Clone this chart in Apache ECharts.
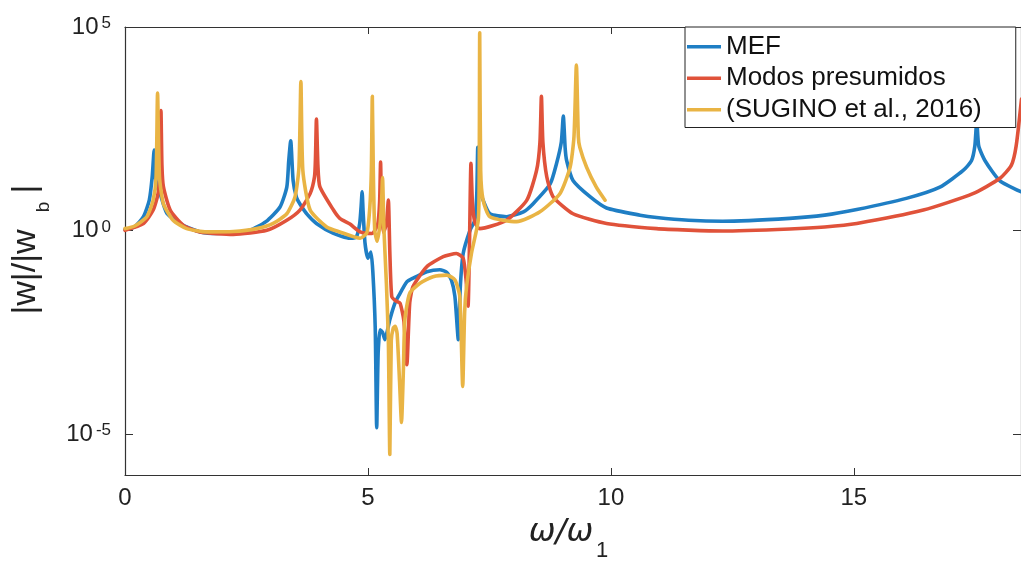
<!DOCTYPE html>
<html>
<head>
<meta charset="utf-8">
<script src="https://cdn.jsdelivr.net/npm/echarts@6/dist/echarts.min.js"></script>
<style>html,body{margin:0;padding:0;background:#fff;}#c{width:1021px;height:561px;}</style>
</head>
<body>
<div id="c"></div>
<script>
// x ticks and y ticks
const xTicks = [0, 5, 10, 15];
const yTicks = [1e-5, 1, 1e5];
const seriesNames = ['MEF', 'Modos presumidos', '(SUGINO et al., 2016)'];

// [omega/omega1, |w|/|wb|]
const mef = [
[0,1.07],[0.2,1.25],[0.38,2.2],[0.5,5.6],[0.56,21],[0.6,95],[0.62,25],[0.66,12],[0.72,8.3],[0.86,2.7],
[1.2,1.35],[1.55,0.93],[1.89,0.85],[2.22,0.89],[2.57,1.02],[2.9,1.66],[3.19,3.8],[3.33,11.7],[3.37,52],[3.41,160],
[3.46,17],[3.53,6.5],[3.6,4.5],[3.75,2.5],[3.94,1.5],[4.28,0.87],[4.63,0.65],[4.76,0.7],[4.83,1.5],[4.86,4],
[4.88,9],[4.9,3],[4.94,0.49],[5.0,0.21],[5.06,0.3],[5.1,0.1],[5.15,0.004],[5.18,1.45e-5],[5.21,1e-3],[5.25,3.7e-3],
[5.3,3.2e-3],[5.35,2.1e-3],[5.4,3.5e-3],[5.45,6.5e-3],[5.55,0.016],[5.64,0.026],[5.8,0.055],[5.93,0.068],[6.21,0.098],[6.48,0.11],
[6.62,0.095],[6.72,0.06],[6.79,0.024],[6.86,0.0021],[6.9,0.04],[6.96,0.275],[7.1,1.02],[7.2,1.8],[7.24,8],[7.26,112],
[7.28,12],[7.37,5.6],[7.51,2.6],[7.85,2.2],[8.2,2.9],[8.4,4.6],[8.75,14],[8.88,44],[8.98,150],[9.02,650],
[9.06,100],[9.09,52],[9.22,17],[9.57,6.8],[9.91,3.6],[10.6,2.4],[10.94,2.1],[11.6,1.8],[12.3,1.7],[13.68,2.0],
[14.4,2.4],[15.06,3.3],[16.08,6.2],[16.77,11.7],[17.25,30],[17.42,52],[17.49,120],[17.53,500],[17.57,120],[17.7,52],
[18.0,17],[18.45,8.9]
];
const modos = [
[0,1.02],[0.38,1.5],[0.58,3.2],[0.68,8.1],[0.72,30],[0.74,890],[0.76,40],[0.79,12],[0.93,3.2],[1.2,1.35],
[1.54,0.93],[2.23,0.81],[2.92,1.02],[3.33,1.8],[3.6,3.2],[3.81,8.1],[3.9,21],[3.92,60],[3.94,550],[3.97,40],
[4.01,12],[4.29,3.2],[4.42,2.0],[4.63,1.45],[4.84,0.93],[5.08,0.85],[5.2,1.4],[5.24,5],[5.26,48],[5.28,3],
[5.32,0.9],[5.38,1.5],[5.42,5.6],[5.45,0.3],[5.49,0.024],[5.57,0.019],[5.66,0.0166],[5.74,0.006],[5.8,5.1e-4],[5.86,0.017],
[5.93,0.043],[6.21,0.13],[6.55,0.23],[6.82,0.275],[6.96,0.21],[7.02,0.06],[7.06,0.014],[7.09,0.5],[7.12,45],[7.15,5],
[7.2,1.6],[7.3,1.12],[7.85,1.8],[8.27,5.6],[8.47,30],[8.54,150],[8.57,2000],[8.6,150],[8.68,21],[8.81,6.8],
[9.22,2.6],[9.91,1.5],[10.94,1.12],[11.6,1.03],[12.3,0.98],[13.68,1.1],[14.4,1.23],[15.06,1.5],[16.43,3.2],[17.45,8.1],
[18.0,19],[18.24,40],[18.34,120],[18.45,1700]
];
const sugino = [
[0,1.12],[0.2,1.3],[0.45,2.2],[0.58,5.6],[0.64,21],[0.67,2400],[0.71,21],[0.79,4.6],[0.99,1.8],[1.27,1.12],
[1.68,0.93],[2.23,0.95],[2.71,1.12],[3.05,1.5],[3.33,2.6],[3.5,6.8],[3.58,36],[3.62,4600],[3.66,30],[3.81,3.2],
[4.15,1.23],[4.42,0.93],[4.84,0.65],[4.98,0.9],[5.04,4],[5.07,30],[5.09,2000],[5.11,30],[5.14,1.0],[5.19,0.55],
[5.25,1.5],[5.28,5],[5.3,20],[5.33,1.0],[5.38,0.05],[5.42,0.002],[5.45,3.2e-6],[5.48,0.002],[5.52,4e-3],[5.56,4.5e-3],
[5.6,3e-3],[5.65,2e-4],[5.69,1.95e-5],[5.73,4e-4],[5.76,6.5e-3],[5.86,0.029],[6.07,0.051],[6.34,0.074],[6.62,0.081],[6.79,0.062],
[6.89,0.024],[6.95,1.5e-4],[6.99,0.01],[7.03,0.043],[7.13,0.275],[7.27,1.8],[7.29,30],[7.3,72000],[7.32,30],[7.37,5.6],
[7.51,2.2],[8.06,1.66],[8.54,2.9],[8.95,8.1],[9.16,36],[9.24,200],[9.29,11700],[9.33,200],[9.36,112],[9.5,36],
[9.7,11.7],[9.88,5.6]
];

const colors = ['#1f7ec4', '#e0523a', '#e9b444'];
const FONT = 'Liberation Sans';
const axisColor = '#333';

const chart = echarts.init(document.getElementById('c'));
function yLabel(v) {
  const e = Math.round(Math.log10(v));
  return '{b|10}{s|' + e + '}';
}
const yRich = {
  b: {fontSize: 24, fontFamily: FONT, color: '#222', lineHeight: 24, verticalAlign: 'bottom', padding: [8, 0, 0, 0]},
  s: {fontSize: 17, fontFamily: FONT, color: '#222', lineHeight: 17, verticalAlign: 'top', padding: [0, 0, 0, 3]}
};
function lineSeries(i, data) {
  return {name: seriesNames[i], type: 'line', data: data, showSymbol: false, symbol: 'none',
    xAxisIndex: 0, yAxisIndex: 0, smooth: 0.2,
    lineStyle: {width: 3.6, color: colors[i], join: 'round', cap: 'round'}, z: 2 + i};
}
chart.setOption({
  animation: false,
  backgroundColor: '#fff',
  color: colors,
  grid: {left: 125, top: 27, right: 0, bottom: 86, show: false},
  legend: {
    orient: 'vertical', left: 685, top: 27, icon: 'rect', itemWidth: 34, itemHeight: 3.5, itemGap: 0,
    padding: [4, 34, 2, 2], borderColor: '#222', borderWidth: 1, backgroundColor: '#fff',
    textStyle: {fontSize: 26, fontFamily: FONT, color: '#111', lineHeight: 31.5},
    data: seriesNames
  },
  xAxis: [
    {type: 'value', min: 0, max: 18.44, position: 'bottom',
     axisLine: {show: true, onZero: false, lineStyle: {color: axisColor, width: 1.2}},
     axisTick: {show: true, inside: true, length: 7, customValues: xTicks, lineStyle: {color: axisColor}},
     axisLabel: {show: true, customValues: xTicks, fontSize: 24, fontFamily: FONT, color: '#222', margin: 11},
     splitLine: {show: false}},
    {type: 'value', min: 0, max: 18.44, position: 'top',
     axisLine: {show: true, onZero: false, lineStyle: {color: axisColor, width: 1.2}},
     axisTick: {show: true, inside: true, length: 7, customValues: xTicks, lineStyle: {color: axisColor}},
     axisLabel: {show: false}, splitLine: {show: false}}
  ],
  yAxis: [
    {type: 'log', logBase: 10, min: 1e-6, max: 1e5, position: 'left',
     axisLine: {show: true, onZero: false, lineStyle: {color: axisColor, width: 1.2}},
     axisTick: {show: true, inside: true, length: 8, customValues: yTicks, lineStyle: {color: axisColor}},
     axisLabel: {show: true, customValues: yTicks, formatter: yLabel, rich: yRich, margin: 14},
     splitLine: {show: false}, minorTick: {show: false}},
    {type: 'log', logBase: 10, min: 1e-6, max: 1e5, position: 'right',
     axisLine: {show: true, onZero: false, lineStyle: {color: axisColor, width: 1.2}},
     axisTick: {show: true, inside: true, length: 8, customValues: yTicks, lineStyle: {color: axisColor}},
     axisLabel: {show: false}, splitLine: {show: false}}
  ],
  series: [lineSeries(0, mef), lineSeries(1, modos), lineSeries(2, sugino)],
  graphic: [
    {type: 'text', x: 561, y: 533, style: {text: 'ω/ω', fontSize: 32, fontStyle: 'italic', fontFamily: 'DejaVu Sans', fill: '#222', align: 'center', verticalAlign: 'middle'}},
    {type: 'text', x: 602, y: 551, style: {text: '1', fontSize: 22, fontFamily: FONT, fill: '#222', align: 'center', verticalAlign: 'middle'}},
    {type: 'text', x: 26, y: 272, rotation: Math.PI / 2, style: {text: '|w|/|w', fontSize: 34, fontFamily: FONT, fill: '#222', align: 'center', verticalAlign: 'middle'}},
    {type: 'text', x: 44, y: 207, rotation: Math.PI / 2, style: {text: 'b', fontSize: 19, fontFamily: FONT, fill: '#222', align: 'center', verticalAlign: 'middle'}},
    {type: 'text', x: 26, y: 189, rotation: Math.PI / 2, style: {text: '|', fontSize: 34, fontFamily: FONT, fill: '#222', align: 'center', verticalAlign: 'middle'}}
  ]
});
</script>
</body>
</html>
